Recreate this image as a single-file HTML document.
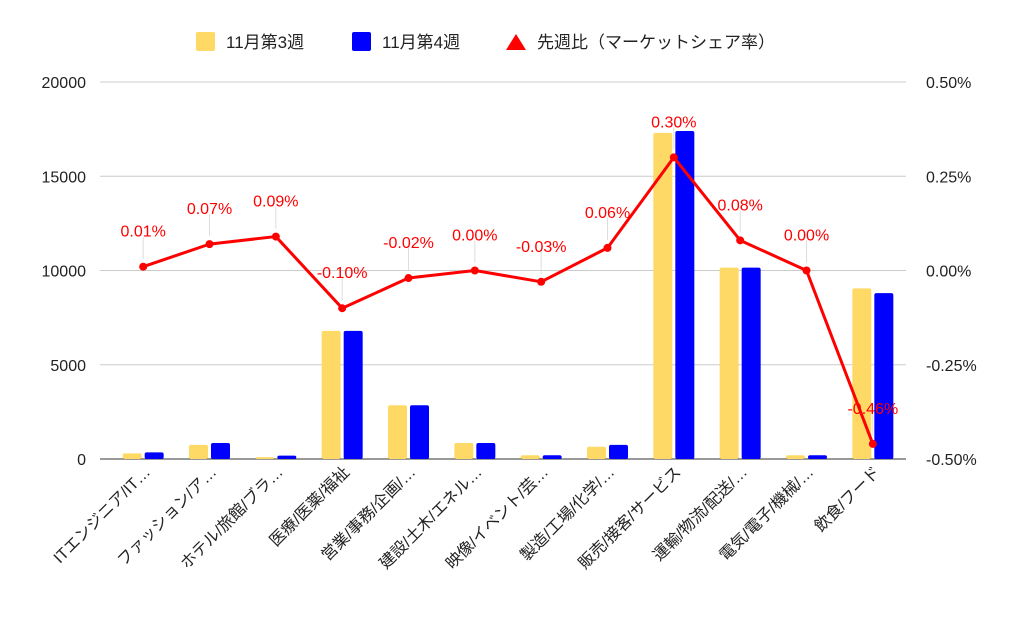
<!DOCTYPE html>
<html><head><meta charset="utf-8">
<style>
body{margin:0;background:#fff;}
svg text{font-family:"Liberation Sans","Noto Sans CJK JP",sans-serif;}
</style></head>
<body>
<svg id="chart" width="1024" height="633" xmlns="http://www.w3.org/2000/svg">
<g id="legend">
  <g><rect x="196" y="32" width="19" height="19" rx="2" fill="#ffd966"/><text x="226" y="48" font-size="17" fill="#222">11月第3週</text></g>
  <g><rect x="352" y="32" width="19" height="19" rx="2" fill="#0000ff"/><text x="382" y="48" font-size="17" fill="#222">11月第4週</text></g>
  <g><polygon points="516,34 526,50 506,50" fill="#ff0000"/><text x="537" y="48" font-size="17" fill="#222">先週比（マーケットシェア率）</text></g>
</g>
<g id="grid"></g>
<g id="bars"></g>
<g id="line"></g>
<g id="xlabels"></g>
</svg>
<script>
const categories=["ITエンジニア/IT…","ファッション/ア…","ホテル/旅館/ブラ…","医療/医薬/福祉","営業/事務/企画/…","建設/土木/エネル…","映像/イベント/芸…","製造/工場/化学/…","販売/接客/サービス","運輸/物流/配送/…","電気/電子/機械/…","飲食/フード"];
const week3=[300,750,100,6800,2850,850,200,650,17300,10150,200,9050];
const week4=[350,850,180,6800,2850,850,200,750,17400,10150,200,8800];
const share=[0.01,0.07,0.09,-0.10,-0.02,0.00,-0.03,0.06,0.30,0.08,0.00,-0.46];
const leftTicks=[0,5000,10000,15000,20000];
const rightTicks=["-0.50%","-0.25%","0.00%","0.25%","0.50%"];

const NS="http://www.w3.org/2000/svg";
const X0=110,X1=906,Y0=459,Y1=82;
const step=(X1-X0)/categories.length;
const xc=i=>X0+step*(i+0.5);
const yL=v=>Y0-(v/20000)*(Y0-Y1);
const yR=v=>Y0-((v+0.5)/1.0)*(Y0-Y1);
function mk(tag,attrs,parent){const e=document.createElementNS(NS,tag);for(const k in attrs)e.setAttribute(k,attrs[k]);parent.appendChild(e);return e;}

const grid=document.getElementById('grid');
leftTicks.forEach((t,i)=>{
  const y=yL(t);
  const l=mk('line',{x1:100,x2:X1,y1:y,y2:y,stroke:i==0?'#333':'#ccc','stroke-width':1},grid);
  
  
  const a=mk('text',{x:86,y:y+6,'font-size':16,'text-anchor':'end',fill:'#222'},grid);
  a.textContent=t;
  
  
  const b=mk('text',{x:926,y:y+6,'font-size':16,fill:'#222'},grid);
  b.textContent=rightTicks[i];
  
  
});

const bars=document.getElementById('bars');
const bw=19;
categories.forEach((c,i)=>{
  const r1=mk('rect',{x:xc(i)-bw-1.5,y:yL(week3[i]),width:bw,height:Y0-yL(week3[i]),rx:2,fill:'#ffd966'},bars);
  
  
  const r2=mk('rect',{x:xc(i)+1.5,y:yL(week4[i]),width:bw,height:Y0-yL(week4[i]),rx:2,fill:'#0000ff'},bars);
  
  
  const t=mk('text',{'font-size':16,'text-anchor':'end',fill:'#222',transform:`translate(${xc(i)+8},${Y0+14}) rotate(-45)`},document.getElementById('xlabels'));
  t.textContent=c;
  
  
});

const line=document.getElementById('line');
const pts=share.map((v,i)=>xc(i)+','+yR(v)).join(' ');
share.forEach((v,i)=>{
  const ld=mk('line',{x1:xc(i),x2:xc(i),y1:yR(v)-8,y2:yR(v)-30,stroke:'#ddd','stroke-width':1},line);
  
  
});
const pl=mk('polyline',{points:pts,fill:'none',stroke:'#ff0000','stroke-width':3,'stroke-linejoin':'round'},line);


share.forEach((v,i)=>{
  const c=mk('circle',{cx:xc(i),cy:yR(v),r:4,fill:'#ff0000'},line);
  
  
  const t=mk('text',{x:xc(i),y:yR(v)-30,'font-size':16,'text-anchor':'middle',fill:'#ff0000'},line);
  t.textContent=v.toFixed(2)+'%';
  
  
});
</script>
</body></html>
